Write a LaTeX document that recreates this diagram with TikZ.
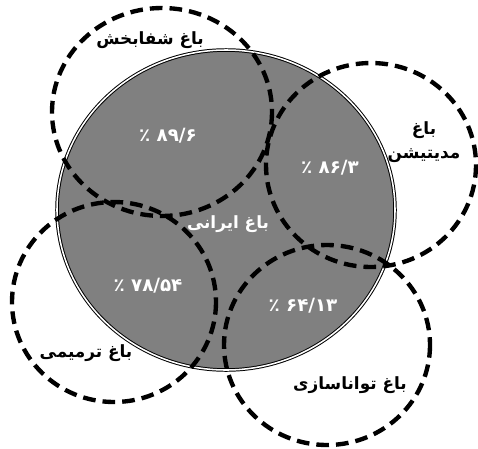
\documentclass[tikz,border=0pt]{standalone}
\usepackage{fontspec}
\newfontfamily\farsi[Script=Arabic]{DejaVu Sans}
\TeXXeTstate=1

\begin{document}
\begin{tikzpicture}[x=0.025cm, y=-0.025cm,
  garden/.style={draw=black, line width=3.1pt, dash pattern=on 9pt off 5pt},
  lbl/.style={font=\farsi\bfseries\fontsize{12}{17}\selectfont, text=black, align=center},
  pct/.style={font=\farsi\bfseries\fontsize{13}{15}\selectfont, text=white}]
\useasboundingbox (0,0) rectangle (478,448);
\fill[white] (0,0) rectangle (478,448);
\filldraw[fill=gray, draw=black, line width=0.7pt, double=white, double distance=1.1pt]
  (226,210) ellipse [x radius=169, y radius=160];
\draw[garden] (162,112) ellipse [x radius=110, y radius=104];
\draw[garden] (371,165) ellipse [x radius=105, y radius=102];
\draw[garden] (114,302) ellipse [x radius=102, y radius=100];
\draw[garden] (327,345) ellipse [x radius=103, y radius=100];
\node[lbl] (healing) at (150,40) {\beginR باغ شفابخش\endR};
\node[pct] (healingpct) at (168,136) {\beginR ۸۹/۶ ٪\endR};
\node[lbl] (meditation) at (424,142) {\beginR باغ\endR\\ \beginR مدیتیشن\endR};
\node[pct] (meditationpct) at (330,168) {\beginR ۸۶/۳ ٪\endR};
\node[lbl, text=white] (persian) at (228,224) {\beginR باغ ایرانی\endR};
\node[pct] (restorativepct) at (148,286) {\beginR ۷۸/۵۴ ٪\endR};
\node[pct] (rehabpct) at (303,306) {\beginR ۶۴/۱۳ ٪\endR};
\node[lbl] (restorative) at (86,353) {\beginR باغ ترمیمی\endR};
\node[lbl] (rehab) at (350,385) {\beginR باغ تواناسازی\endR};
\end{tikzpicture}
\end{document}
